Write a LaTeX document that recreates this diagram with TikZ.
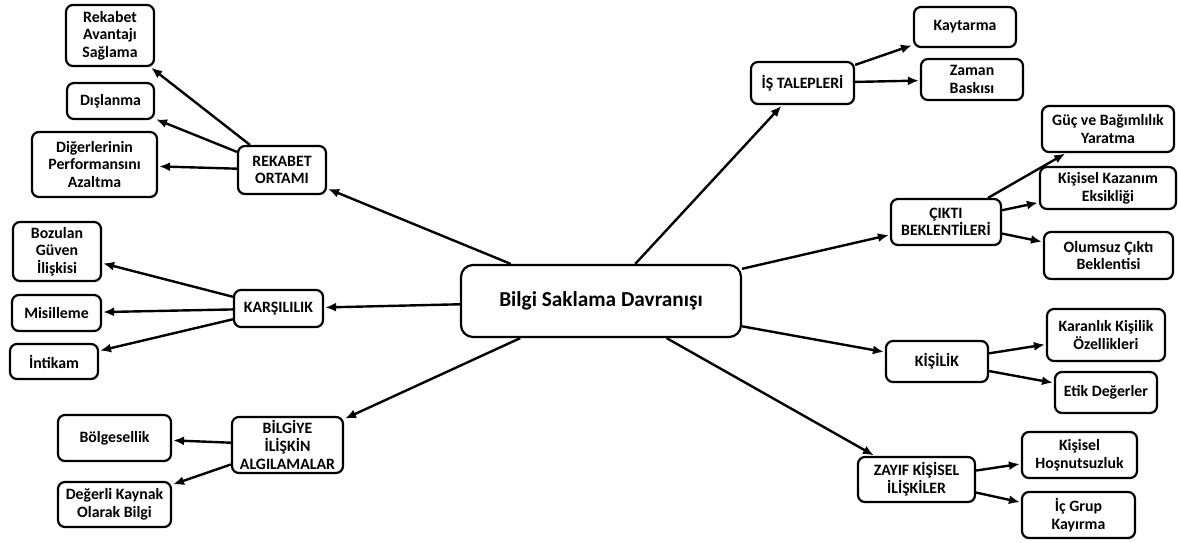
\documentclass[tikz,border=0pt]{standalone}
\usepackage{fontspec}
\setmainfont{Carlito}
\usetikzlibrary{arrows.meta}
\tikzset{
  bx/.style={draw, line width=2.2pt, rounded corners=7pt, align=center, inner sep=0pt,
    font=\fontsize{15.8}{17.6}\selectfont\bfseries},
  conn/.style={line width=2.4pt, -{Latex[length=11pt,width=9pt]}, shorten >=1pt}
}
\newcommand{\bxn}[6]{\node[bx, minimum width=#4pt, minimum height=#5pt] (#1) at (#2,#3) {#6};}
\begin{document}
\begin{tikzpicture}[x=1pt,y=-1pt]
\useasboundingbox (0,0) rectangle (1178,542);
% center
\node[bx, rounded corners=12pt, minimum width=280pt, minimum height=72pt,
  font=\fontsize{21.3}{24}\selectfont\bfseries] (c) at (601,301) {Bilgi Saklama Davranışı};
% categories
\bxn{rek}{282}{170}{88}{48}{REKABET\\ORTAMI}
\bxn{kar}{278.5}{308.5}{89}{37}{KARŞILILIK}
\bxn{bil}{287.5}{445}{111}{56}{BİLGİYE\\İLİŞKİN\\ALGILAMALAR}
\bxn{is}{802.5}{83}{103}{42}{İŞ TALEPLERİ}
\bxn{cik}{946}{222}{110}{46}{ÇIKTI\\BEKLENTİLERİ}
\bxn{kis}{937}{361.5}{102}{41}{KİŞİLİK}
\bxn{zay}{916.5}{479.5}{117}{45}{ZAYIF KİŞİSEL\\İLİŞKİLER}
% leaves
\bxn{ra}{110}{35.5}{88}{61}{Rekabet\\Avantajı\\Sağlama}
\bxn{dis}{110.5}{101}{87}{36}{Dışlanma}
\bxn{dig}{94.5}{164.5}{125}{65}{Diğerlerinin\\Performansını\\Azaltma}
\bxn{boz}{57}{251.5}{88}{59}{Bozulan\\Güven\\İlişkisi}
\bxn{mis}{56.5}{313}{89}{36}{Misilleme}
\bxn{int}{54}{361.5}{88}{35}{İntikam}
\bxn{bol}{114.5}{438}{113}{46}{Bölgesellik}
\bxn{deg}{114.5}{504.5}{113}{45}{Değerli Kaynak\\Olarak Bilgi}
\bxn{kay}{965}{27}{102}{40}{Kaytarma}
\bxn{zam}{972}{79.5}{102}{41}{Zaman\\Baskısı}
\bxn{guc}{1108}{129}{132}{46}{Güç ve Bağımlılık\\Yaratma}
\bxn{kaz}{1108}{188}{136}{42}{Kişisel Kazanım\\Eksikliği}
\bxn{olu}{1108.5}{255.5}{129}{47}{Olumsuz Çıktı\\Beklentisi}
\bxn{kar2}{1106}{335}{118}{52}{Karanlık Kişilik\\Özellikleri}
\bxn{etk}{1106}{392.5}{102}{41}{Etik Değerler}
\bxn{hos}{1079.5}{455}{115}{46}{Kişisel\\Hoşnutsuzluk}
\bxn{icg}{1078.5}{515}{113}{46}{İç Grup\\Kayırma}
% connectors
\foreach \t in {rek,kar,bil,is,cik,kis,zay} \draw[conn] (c) -- (\t);
\draw[conn] (rek) -- (ra);
\draw[conn] (rek) -- (dis);
\draw[conn] (rek) -- (dig);
\draw[conn] (kar) -- (boz);
\draw[conn] (kar) -- (mis);
\draw[conn] (kar) -- (int);
\draw[conn] (bil) -- (bol);
\draw[conn] (bil) -- (deg);
\draw[conn] (is) -- (kay);
\draw[conn] (is) -- (zam);
\draw[conn] (cik) -- (guc);
\draw[conn] (cik) -- (kaz);
\draw[conn] (cik) -- (olu);
\draw[conn] (kis) -- (kar2);
\draw[conn] (kis) -- (etk);
\draw[conn] (zay) -- (hos);
\draw[conn] (zay) -- (icg);
\end{tikzpicture}
\end{document}
